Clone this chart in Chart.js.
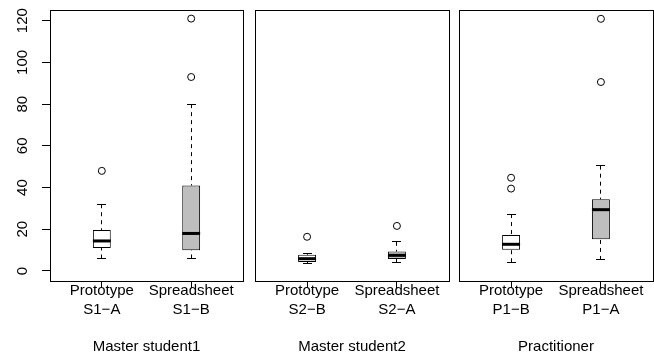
<!DOCTYPE html>
<html>
<head>
<meta charset="utf-8">
<script src="https://cdn.jsdelivr.net/npm/chart.js@4.4.1/dist/chart.umd.min.js"></script>
<style>
  html, body { margin: 0; padding: 0; background: #fff; }
  #wrap { position: relative; width: 654px; height: 356px; overflow: hidden; }
  #wrap canvas { position: absolute; top: 0; }
</style>
</head>
<body>
<div id="wrap">
  <canvas id="panel0" width="246" height="356" style="left:0px"></canvas>
  <canvas id="panel1" width="202" height="356" style="left:250px"></canvas>
  <canvas id="panel2" width="202" height="356" style="left:452px"></canvas>
</div>
<script>
// Participant groups, tools and session codes
const groups = ['Master student1', 'Master student2', 'Practitioner'];
const tools = ['Prototype', 'Spreadsheet'];
const codes = [['S1\u2212A', 'S1\u2212B'], ['S2\u2212B', 'S2\u2212A'], ['P1\u2212B', 'P1\u2212A']];

// Five-number summaries per group (index 0 = Prototype, 1 = Spreadsheet)
const whiskerLow  = [[6, 6],     [3.5, 4.2], [4.2, 5.3]];
const quartile1   = [[11, 10],   [4.3, 5.8], [10.2, 15.2]];
const medians     = [[14.4, 18], [5.9, 7.5], [12.8, 29.4]];
const quartile3   = [[19.7, 41], [7.8, 9.3], [17.3, 34.4]];
const whiskerHigh = [[32, 80],   [8.3, 14],  [27.3, 50.5]];
const outliers    = [[[48], [93, 121]], [[16.4], [21.6]], [[39.5, 44.7], [90.6, 120.9]]];

// Value axis
const yTicks = [0, 20, 40, 60, 80, 100, 120];
const yMin = -4.8;
const yMax = 125.13;

const FONT = '"Liberation Sans", Arial, Helvetica, sans-serif';
const boxFills = ['#ffffff', '#bebebe'];

Chart.defaults.font.family = FONT;
Chart.defaults.color = '#000';

// Whiskers, staples, medians and the panel frame
const boxParts = {
  id: 'boxParts',
  beforeDatasetsDraw(chart) {
    const p = chart.options.plugins.boxParts.panel;
    const ys = chart.scales.y;
    const ctx = chart.ctx;
    const bars = chart.getDatasetMeta(0).data;
    ctx.save();
    ctx.strokeStyle = '#000';
    ctx.lineWidth = 1;
    bars.forEach((bar, i) => {
      const cx = Math.round(bar.x - 0.5) + 0.5;
      const half = bar.width / 4;
      const hi = ys.getPixelForValue(whiskerHigh[p][i]);
      const lo = ys.getPixelForValue(whiskerLow[p][i]);
      const top = ys.getPixelForValue(quartile3[p][i]);
      const bot = ys.getPixelForValue(quartile1[p][i]);
      ctx.setLineDash([4, 4]);
      ctx.beginPath();
      ctx.moveTo(cx, hi); ctx.lineTo(cx, top);
      ctx.moveTo(cx, lo); ctx.lineTo(cx, bot);
      ctx.stroke();
      ctx.setLineDash([]);
      ctx.beginPath();
      const hy = Math.round(hi - 0.5) + 0.5;
      const ly = Math.round(lo - 0.5) + 0.5;
      ctx.moveTo(cx - half, hy); ctx.lineTo(cx + half, hy);
      ctx.moveTo(cx - half, ly); ctx.lineTo(cx + half, ly);
      ctx.stroke();
    });
    ctx.restore();
  },
  afterDatasetsDraw(chart) {
    const p = chart.options.plugins.boxParts.panel;
    const ys = chart.scales.y;
    const ctx = chart.ctx;
    const bars = chart.getDatasetMeta(0).data;
    const a = chart.chartArea;
    ctx.save();
    ctx.strokeStyle = '#000';
    ctx.lineWidth = 3;
    bars.forEach((bar, i) => {
      const m = ys.getPixelForValue(medians[p][i]);
      ctx.beginPath();
      ctx.moveTo(bar.x - bar.width / 2, m);
      ctx.lineTo(bar.x + bar.width / 2, m);
      ctx.stroke();
    });
    ctx.lineWidth = 1;
    ctx.strokeRect(a.left + 0.5, a.top + 0.5, a.right - a.left, a.bottom - a.top);
    ctx.restore();
  }
};

function makePanel(p, padLeft, padRight, showY) {
  const boxData = tools.map((t, i) => ({ x: i + 1, y: [quartile1[p][i], quartile3[p][i]] }));
  const outlierData = [];
  tools.forEach((t, i) => outliers[p][i].forEach(v => outlierData.push({ x: i + 1, y: v })));

  return new Chart(document.getElementById('panel' + p), {
    type: 'bar',
    data: {
      datasets: [
        {
          type: 'bar',
          data: boxData,
          backgroundColor: boxFills,
          borderColor: '#000',
          borderWidth: 1,
          borderSkipped: false,
          categoryPercentage: 1,
          barPercentage: 0.2,
          order: 2
        },
        {
          type: 'scatter',
          data: outlierData,
          pointStyle: 'circle',
          pointRadius: 3.5,
          pointBorderWidth: 1,
          pointBorderColor: '#000',
          pointBackgroundColor: 'rgba(0,0,0,0)',
          order: 1
        }
      ]
    },
    options: {
      responsive: false,
      animation: false,
      devicePixelRatio: 1,
      events: [],
      layout: { autoPadding: false, padding: { top: 10, left: padLeft, right: padRight, bottom: 0 } },
      plugins: {
        legend: { display: false },
        tooltip: { enabled: false },
        boxParts: { panel: p }
      },
      scales: {
        x: {
          type: 'linear',
          position: 'bottom',
          offset: false,
          min: 0.42,
          max: 2.58,
          afterBuildTicks: s => { s.ticks = tools.map((t, i) => ({ value: i + 1 })); },
          afterFit: s => { s.height = 75; s.paddingLeft = 0; s.paddingRight = 0; },
          grid: { offset: false, drawOnChartArea: false, drawTicks: true, tickLength: 7, color: '#000', lineWidth: 1 },
          border: { display: true, color: '#000', width: 1 },
          ticks: {
            autoSkip: false,
            minRotation: 0,
            maxRotation: 0,
            padding: -7,
            color: '#000',
            font: { family: FONT, size: 15, lineHeight: 1.3 },
            callback: (v, i) => [tools[i], codes[p][i]]
          },
          title: {
            display: true,
            text: groups[p],
            color: '#000',
            font: { family: FONT, size: 15, lineHeight: 1.2 },
            padding: { top: 0, bottom: 0 }
          }
        },
        y: {
          type: 'linear',
          position: 'left',
          display: showY,
          min: yMin,
          max: yMax,
          afterBuildTicks: s => { s.ticks = yTicks.map(v => ({ value: v })); },
          afterFit: s => {
            if (showY) { s.width = 50; }
            s.paddingTop = 0; s.paddingBottom = 0;
          },
          grid: { drawOnChartArea: false, drawTicks: true, tickLength: 8, color: '#000', lineWidth: 1 },
          border: { display: true, color: '#000', width: 1 },
          ticks: {
            minRotation: 90,
            maxRotation: 90,
            crossAlign: 'center',
            padding: 6.5,
            color: '#000',
            font: { family: FONT, size: 15 }
          }
        }
      }
    },
    plugins: [boxParts]
  });
}

makePanel(0, 0, 3, true);
makePanel(1, 5, 3, false);
makePanel(2, 7, 1, false);
</script>
</body>
</html>
